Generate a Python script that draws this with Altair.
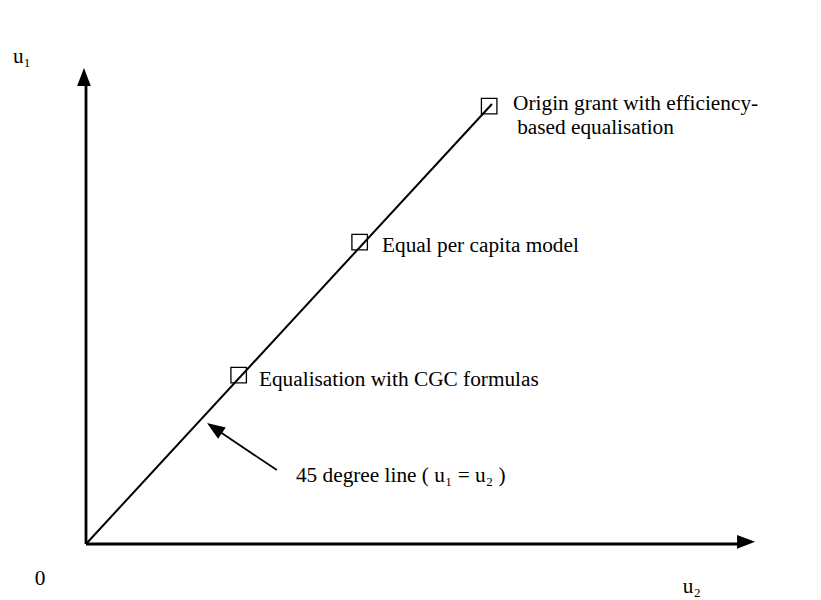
import altair as alt
import pandas as pd

# ---- data (in utility units; 45-degree line runs to u = 10) ----
line_u1 = [0, 10]
line_u2 = [0, 10]

marker_u2 = [9.93, 6.74, 3.76]
marker_u1 = [9.95, 6.86, 3.84]

label_text = [
    "Origin grant with efficiency-",
    "based equalisation",
    "Equal per capita model",
    "Equalisation with CGC formulas",
    "45 degree line ( u\u2081 = u\u2082 )",
    "0",
    "u\u2082",
    "u\u2081",
]
label_x = [10.52, 10.62, 7.29, 4.26, 5.17, -1.26, 14.70, -1.80]
label_y = [9.86, 9.32, 6.64, 3.59, 1.41, -0.93, -1.11, 10.93]

# axes and pointer segments (x, y, x2, y2)
seg_x = [0.0, 0.0, 4.70]
seg_y = [0.0, 0.0, 1.68]
seg_x2 = [0.0, 16.1, 3.25]
seg_y2 = [10.5, 0.0, 2.58]
seg_w = [2.8, 2.8, 1.8]

# arrow heads (tip positions and rotation)
head_x = [-0.05, 16.48, 2.98]
head_y = [10.82, 0.05, 2.75]
head_angle = [0, 90, 304]

XMIN, XMAX = -1.921, 17.906
YMIN, YMAX = -1.273, 12.182

xs = alt.Scale(domain=[XMIN, XMAX], nice=False, zero=False)
ys = alt.Scale(domain=[YMIN, YMAX], nice=False, zero=False)

segs = pd.DataFrame({"x": seg_x, "y": seg_y, "x2": seg_x2, "y2": seg_y2, "w": seg_w})
heads = pd.DataFrame({"x": head_x, "y": head_y, "a": head_angle})
line_df = pd.DataFrame({"x": line_u2, "y": line_u1})
marks_df = pd.DataFrame({"x": marker_u2, "y": marker_u1})
labels = pd.DataFrame({"x": label_x, "y": label_y, "t": label_text})

rules = alt.Chart(segs).mark_rule(color="black").encode(
    x=alt.X("x:Q", scale=xs, axis=None),
    y=alt.Y("y:Q", scale=ys, axis=None),
    x2="x2:Q",
    y2="y2:Q",
    strokeWidth=alt.StrokeWidth("w:Q", scale=None),
)

arrow_path = "M0,0 L-0.38,1 L0.38,1 Z"
arrows = alt.Chart(heads).mark_point(
    shape=arrow_path, filled=True, size=1300, color="black", opacity=1
).encode(
    x=alt.X("x:Q", scale=xs, axis=None),
    y=alt.Y("y:Q", scale=ys, axis=None),
    angle=alt.Angle("a:Q", scale=None),
)

diag = alt.Chart(line_df).mark_line(color="black", strokeWidth=2).encode(
    x=alt.X("x:Q", scale=xs, axis=None),
    y=alt.Y("y:Q", scale=ys, axis=None),
)

pts = alt.Chart(marks_df).mark_point(
    shape="square", filled=False, size=240, color="black", strokeWidth=1.3, opacity=1
).encode(
    x=alt.X("x:Q", scale=xs, axis=None),
    y=alt.Y("y:Q", scale=ys, axis=None),
)

txt = alt.Chart(labels).mark_text(
    align="left", baseline="alphabetic", font="Liberation Serif", fontSize=21.3, color="black"
).encode(
    x=alt.X("x:Q", scale=xs, axis=None),
    y=alt.Y("y:Q", scale=ys, axis=None),
    text="t:N",
)

chart = alt.layer(rules, diag, arrows, pts, txt).properties(
    width=805, height=592, autosize=alt.AutoSizeParams(type="none"), padding=0,
    background="white",
).configure_view(stroke=None)

chart.save("out.html", embed_options={"renderer": "svg", "actions": False})
